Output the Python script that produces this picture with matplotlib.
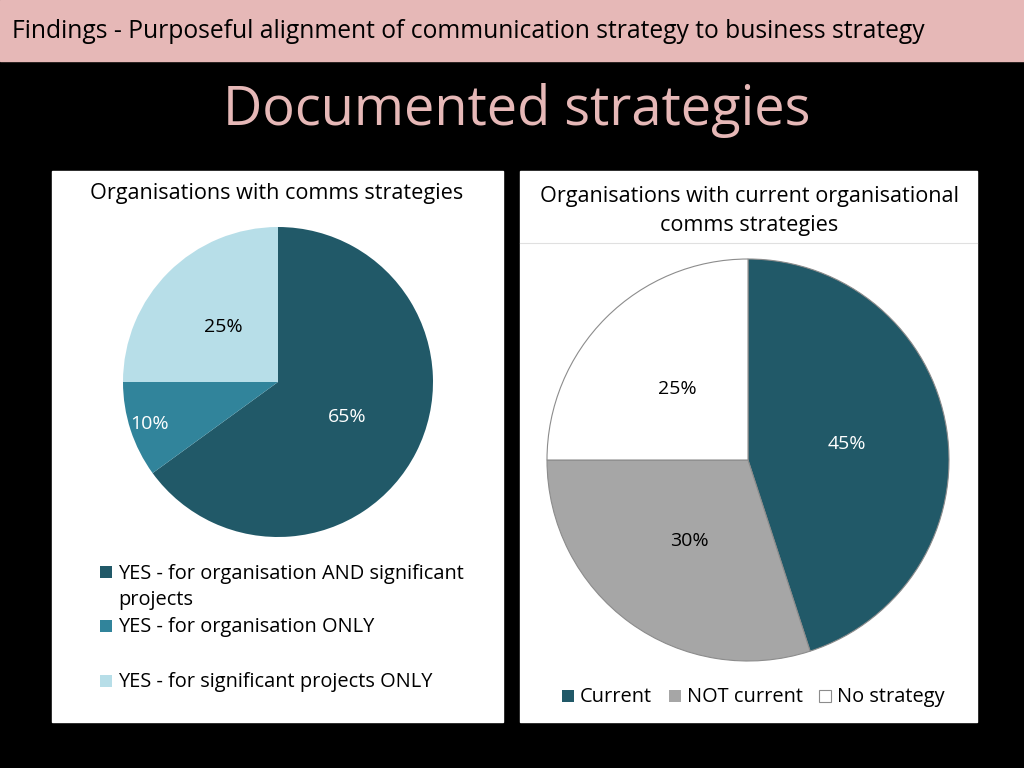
import numpy as np
import matplotlib
matplotlib.use("Agg")
import matplotlib.pyplot as plt
from matplotlib.patches import Rectangle

plt.rcParams['font.family'] = ['Open Sans', 'DejaVu Sans']

# ---- data ----
header = "Findings - Purposeful alignment of communication strategy to business strategy"
title = "Documented strategies"

left_title = "Organisations with comms strategies"
left_labels = ["YES - for organisation AND significant\nprojects",
               "YES - for organisation ONLY",
               "YES - for significant projects ONLY"]
left_values = [65, 10, 25]
left_colors = ["#215968", "#31849B", "#B7DEE8"]
left_text_colors = ["white", "white", "black"]
left_label_dist = [0.5, 0.87, 0.5]

right_title = "Organisations with current organisational\ncomms strategies"
right_labels = ["Current", "NOT current", "No strategy"]
right_values = [45, 30, 25]
right_colors = ["#215968", "#A6A6A6", "white"]
right_text_colors = ["white", "black", "black"]

W, H = 1024, 768
fig = plt.figure(figsize=(W / 100, H / 100), dpi=100, facecolor="black")

# background canvas in pixel units
bg = fig.add_axes([0, 0, 1, 1])
bg.set_xlim(0, W)
bg.set_ylim(H, 0)
bg.axis("off")
bg.add_patch(Rectangle((0, 0), W, 61, color="#E6B8B7", zorder=0))
bg.text(12, 32, header, fontsize=17.7, va="center", ha="left", color="black")
bg.text(517, 110, title, fontsize=39, va="center", ha="center", color="#E6B8B7")

# panels
bg.add_patch(Rectangle((52, 171), 451, 551, color="white", zorder=0))
bg.add_patch(Rectangle((520, 171), 457, 551, color="white", zorder=0))
bg.plot([520, 977], [243, 243], color="#E0E0E0", lw=0.8)
bg.text(277, 194, left_title, fontsize=15.6, ha="center", va="center")
bg.text(749, 211, right_title, fontsize=15.6, ha="center", va="center", linespacing=1.5)


def pie_axes(cx, cy, r):
    ax = fig.add_axes([(cx - r) / W, (H - cy - r) / H, 2 * r / W, 2 * r / H])
    ax.set_xlim(-1, 1)
    ax.set_ylim(-1, 1)
    ax.axis("off")
    return ax


def draw_pie(ax, values, colors, tcolors, dists, edge):
    wedges, _ = ax.pie(values, colors=colors, startangle=90, counterclock=False,
                       radius=1, wedgeprops=dict(edgecolor=edge, linewidth=0.8))
    ax.set_xlim(-1, 1)
    ax.set_ylim(-1, 1)
    for w, v, tc, d in zip(wedges, values, tcolors, dists):
        ang = np.deg2rad((w.theta1 + w.theta2) / 2)
        ax.text(d * np.cos(ang), d * np.sin(ang), f"{v}%", ha="center", va="center",
                fontsize=14, color=tc)


axl = pie_axes(278, 382, 155)
draw_pie(axl, left_values, left_colors, left_text_colors, left_label_dist, "none")

axr = pie_axes(748, 460, 201)
draw_pie(axr, right_values, right_colors, right_text_colors, [0.5, 0.5, 0.5], "#8C8C8C")

# left legend
left_leg_y = [572, 626, 681]
for lab, col, y in zip(left_labels, left_colors, left_leg_y):
    bg.add_patch(Rectangle((100, y - 6), 12, 12, facecolor=col, edgecolor="none"))
    ty = y + 15 if "\n" in lab else y + 1
    bg.text(118, ty, lab, fontsize=14.4, ha="left", va="center", linespacing=1.45)

# right legend
right_leg_x = [562, 669, 819]
for lab, col, x in zip(right_labels, right_colors, right_leg_x):
    bg.add_patch(Rectangle((x, 690), 12, 12, facecolor=col,
                           edgecolor="#8C8C8C" if col == "white" else "none", lw=0.8))
    bg.text(x + 18, 697, lab, fontsize=14.4, ha="left", va="center")

fig.savefig("out.png", dpi=100, facecolor="black")
